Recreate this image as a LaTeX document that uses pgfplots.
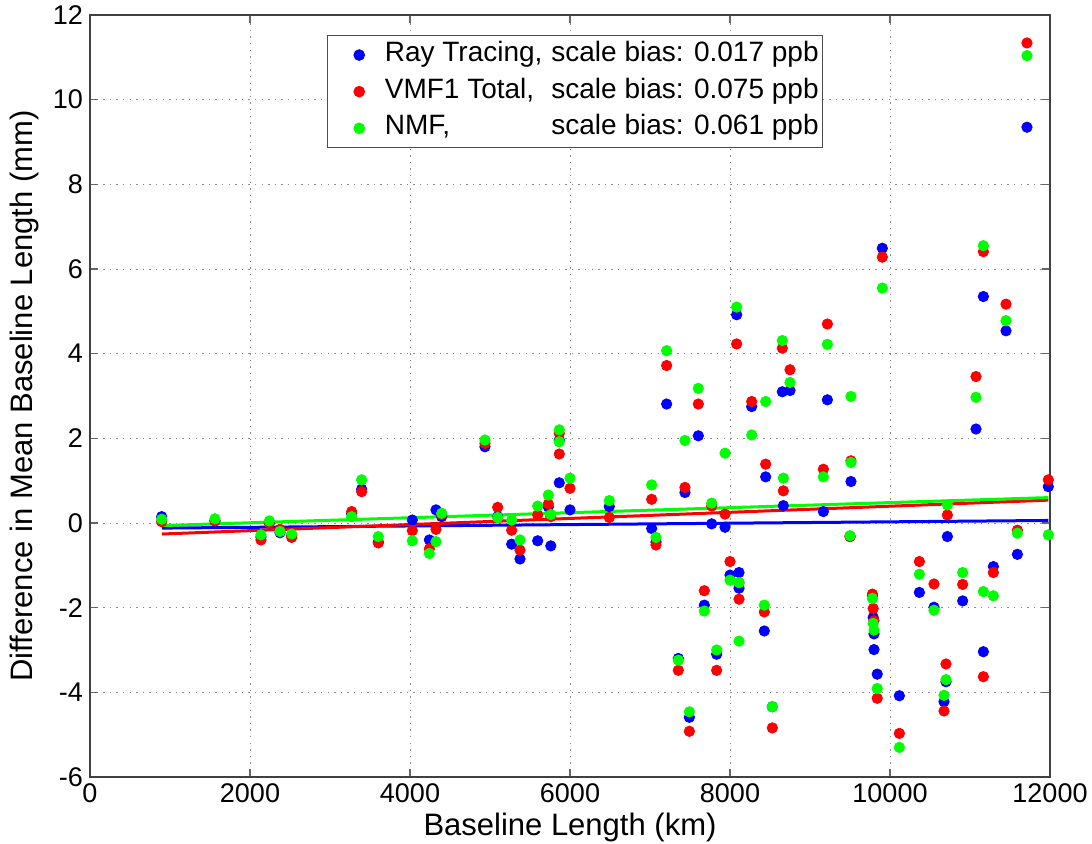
\documentclass[border=0pt]{standalone}
\usepackage{fontspec}
\setmainfont{Liberation Sans}
\usepackage{pgfplots}
\pgfplotsset{compat=1.18}
\definecolor{mblue}{RGB}{0,0,255}
\definecolor{mred}{RGB}{255,0,0}
\definecolor{mgreen}{RGB}{0,255,0}
\begin{document}
\begin{tikzpicture}
\useasboundingbox (-45pt,-33pt) rectangle (501pt,388.5pt);
\begin{axis}[
  scale only axis, width=480pt, height=381pt,
  xmin=0, xmax=12000, ymin=-6, ymax=12,
  xtick={0,2000,...,12000}, ytick={-6,-4,...,12},
  scaled x ticks=false,
  /pgf/number format/1000 sep={},
  /pgf/number format/assume math mode=true,
  tick label style={font=\fontsize{13.5}{16}\selectfont},
  x tick label style={yshift=0pt},
  xlabel={Baseline Length (km)},
  ylabel={Difference in Mean Baseline Length (mm)},
  every axis x label/.style={at={(axis description cs:0.5,-0.0665)}, anchor=center, font=\fontsize{15.5}{18}\selectfont},
  every axis y label/.style={at={(axis description cs:-0.06875,0.5)}, anchor=center, rotate=90, font=\fontsize{15.5}{18}\selectfont},
  grid=major,
  major grid style={black!45, dash pattern=on 0.7pt off 2.6pt, line width=0.5pt},
  axis line style={black!75, line width=0.6pt},
  major tick style={black!60, line width=0.6pt},
  major tick length=4pt,
  tick align=inside,
  legend style={at={(0.2469,0.9738)}, anchor=north west, draw=black!70, line width=0.6pt,
    font=\fontsize{14}{17}\selectfont, inner xsep=1pt, inner ysep=2pt, row sep=2.8pt,
    nodes={inner xsep=1pt, inner ysep=1pt, text height=10pt, text depth=3.5pt}},
  legend cell align=left,
  legend image code/.code={\path (0pt,0pt) (26pt,0pt); \draw[#1] plot coordinates {(14.5pt,0pt)};},
]
\addplot[only marks, mark=*, mark size=2.6pt, color=mblue] coordinates {
(896,0.15) (1562,0.05) (2137,-0.33) (2242,0.0) (2375,-0.23) (2521,-0.30)
(3271,0.22) (3396,0.80) (3604,-0.45) (4029,0.07) (4242,-0.40) (4325,0.31)
(4396,0.15) (4937,1.80) (5096,0.15) (5271,-0.50) (5375,-0.85) (5596,-0.42)
(5729,0.38) (5760,-0.54) (5866,1.96) (5866,0.95) (6000,0.31) (6491,0.39)
(7021,-0.13) (7075,-0.45) (7208,2.81) (7437,0.72) (7604,2.06) (7771,-0.02)
(7938,-0.10) (8083,4.92) (8271,2.75) (8446,1.09) (8654,3.10) (8750,3.13)
(8667,0.41) (9217,2.91) (9167,0.27) (9512,0.98) (9500,-0.32) (7679,-1.94)
(7354,-3.20) (7833,-3.10) (7492,-4.59) (8000,-1.23) (8113,-1.17) (8113,-1.54)
(8429,-2.55) (8529,-4.34) (9780,-1.72) (9790,-2.23) (9800,-2.62) (9800,-2.99)
(9840,-3.57) (9904,6.49) (10117,-4.08) (10367,-1.64) (10550,-1.99) (10717,-0.32)
(10908,-1.84) (11167,-3.04) (11292,-1.03) (10700,-3.75) (10675,-4.22) (11075,2.22)
(11167,5.35) (11450,4.54) (11592,-0.74) (11979,0.86) (11712,9.35)
};
\addlegendentry{\makebox[5.95em][l]{Ray Tracing,}scale bias: 0.017 ppb}
\addplot[only marks, mark=*, mark size=2.6pt, color=mred] coordinates {
(896,0.03) (1562,0.05) (2137,-0.40) (2242,0.0) (2375,-0.15) (2521,-0.34)
(3271,0.27) (3396,0.74) (3604,-0.47) (4029,-0.18) (4242,-0.61) (4325,-0.15)
(4396,0.20) (4937,1.88) (5096,0.37) (5271,-0.17) (5375,-0.64) (5596,0.19)
(5729,0.45) (5760,0.15) (5866,2.12) (5866,1.63) (6000,0.82) (6491,0.13)
(7021,0.56) (7075,-0.52) (7208,3.72) (7437,0.84) (7604,2.81) (7771,0.40)
(7938,0.21) (8083,4.23) (8271,2.87) (8446,1.39) (8654,4.13) (8750,3.62)
(8667,0.76) (9217,4.70) (9167,1.27) (9512,1.47) (9500,-0.32) (7679,-1.60)
(7354,-3.48) (7833,-3.48) (7492,-4.92) (8000,-0.91) (8113,-1.41) (8113,-1.80)
(8429,-2.10) (8529,-4.84) (9780,-1.68) (9790,-2.02) (9800,-2.31) (9840,-4.14)
(9904,6.28) (10117,-4.97) (10367,-0.91) (10550,-1.44) (10717,0.19) (10908,-1.45)
(11167,-3.63) (11292,-1.17) (10700,-3.33) (10675,-4.44) (11075,3.46) (11167,6.41)
(11450,5.17) (11592,-0.17) (11979,1.02) (11712,11.34)
};
\addlegendentry{\makebox[5.95em][l]{VMF1 Total,}scale bias: 0.075 ppb}
\addplot[only marks, mark=*, mark size=2.6pt, color=mgreen] coordinates {
(896,0.09) (1562,0.10) (2137,-0.28) (2242,0.05) (2375,-0.20) (2521,-0.26)
(3271,0.15) (3396,1.02) (3604,-0.32) (4029,-0.42) (4242,-0.72) (4325,-0.44)
(4396,0.23) (4937,1.96) (5096,0.13) (5271,0.07) (5375,-0.40) (5596,0.40)
(5729,0.66) (5760,0.20) (5866,2.20) (5866,1.92) (6000,1.06) (6491,0.53)
(7021,0.90) (7075,-0.34) (7208,4.07) (7437,1.95) (7604,3.18) (7771,0.47)
(7938,1.65) (8083,5.10) (8271,2.08) (8446,2.87) (8654,4.31) (8750,3.32)
(8667,1.06) (9217,4.22) (9167,1.09) (9512,1.43) (9512,2.99) (9500,-0.30)
(7679,-2.08) (7354,-3.24) (7833,-3.00) (7492,-4.46) (8000,-1.35) (8113,-1.41)
(8113,-2.79) (8429,-1.94) (8529,-4.34) (9780,-1.78) (9790,-2.37) (9800,-2.53)
(9840,-3.91) (9904,5.55) (10117,-5.30) (10367,-1.21) (10550,-2.06) (10717,0.43)
(10908,-1.17) (11167,-1.62) (11292,-1.72) (10700,-3.70) (10675,-4.07) (11075,2.97)
(11167,6.55) (11450,4.78) (11592,-0.24) (11979,-0.28) (11712,11.04)
};
\addlegendentry{\makebox[5.95em][l]{NMF,}scale bias: 0.061 ppb}
\addplot[mblue, line width=1.5pt, forget plot] coordinates {(900,-0.12) (11979,0.06)};
\addplot[mred, line width=1.5pt, forget plot] coordinates {(900,-0.26) (11979,0.54)};
\addplot[mgreen, line width=1.5pt, forget plot] coordinates {(900,-0.06) (11979,0.60)};
\end{axis}
\end{tikzpicture}
\end{document}
